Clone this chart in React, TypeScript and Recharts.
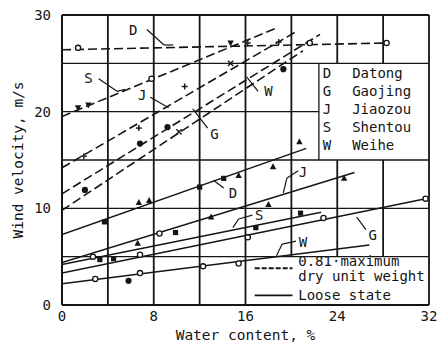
import React from 'react';
import {
  ComposedChart,
  Line,
  Scatter,
  XAxis,
  YAxis,
  ReferenceLine,
  ReferenceDot,
} from 'recharts';

// ---- axes ----
const xTicks = [0, 8, 16, 24, 32];
const yTicks = [0, 10, 20, 30];
const gridX = [4, 8, 12, 16, 20, 24, 28];
const gridY = [5, 10, 15, 20, 25];

// ---- 0.81 maximum dry unit weight (dashed fit lines) ----
const dashedD = [{ x: 0, y: 26.4 }, { x: 28.3, y: 27.1 }];
const dashedS = [{ x: 0, y: 19.5 }, { x: 18.8, y: 28.7 }];
const dashedJ = [{ x: 0, y: 14.2 }, { x: 20.3, y: 28.2 }];
const dashedG = [{ x: 0, y: 9.8 }, { x: 21.0, y: 26.3 }];
const dashedW = [{ x: 0, y: 11.5 }, { x: 22.5, y: 28.0 }];

// ---- loose state (solid fit lines) ----
const solidD = [{ x: 0, y: 7.3 }, { x: 21.3, y: 16.2 }];
const solidJ = [{ x: 0, y: 4.4 }, { x: 25.5, y: 13.7 }];
const solidS = [{ x: 0, y: 4.2 }, { x: 22.6, y: 9.6 }];
const solidG = [{ x: 0, y: 3.3 }, { x: 31.7, y: 11.0 }];
const solidW = [{ x: 0, y: 2.2 }, { x: 26.8, y: 6.2 }];

// ---- measured points ----
const ptsDashedD = [{ x: 1.4, y: 26.6 }, { x: 21.6, y: 27.1 }, { x: 28.3, y: 27.1 }];
const ptsDashedS = [{ x: 1.4, y: 20.4 }, { x: 2.3, y: 20.7 }, { x: 14.7, y: 27.1 }];
const ptsDashedSo = [{ x: 7.8, y: 23.4 }];
const ptsDashedJ = [{ x: 1.9, y: 15.4 }, { x: 6.7, y: 18.3 }, { x: 10.7, y: 22.6 }, { x: 16.2, y: 27.1 }, { x: 18.9, y: 27.2 }];
const ptsDashedG = [{ x: 10.2, y: 17.9 }, { x: 14.7, y: 25.0 }];
const ptsDashedW = [{ x: 2.0, y: 11.9 }, { x: 6.8, y: 16.7 }, { x: 9.2, y: 18.4 }, { x: 19.3, y: 24.4 }, { x: 5.8, y: 2.5 }];

const ptsSolidDsq = [{ x: 3.7, y: 8.6 }, { x: 12.0, y: 12.2 }, { x: 14.1, y: 13.1 }];
const ptsSolidDtri = [{ x: 6.7, y: 10.6 }, { x: 7.6, y: 10.8 }, { x: 15.4, y: 13.4 }, { x: 18.4, y: 14.3 }, { x: 20.7, y: 16.9 }];
const ptsSolidJ = [{ x: 6.6, y: 6.4 }, { x: 13.0, y: 9.1 }, { x: 18.0, y: 10.4 }, { x: 24.6, y: 13.1 }];
const ptsSolidS = [{ x: 3.3, y: 4.7 }, { x: 4.5, y: 4.8 }, { x: 9.9, y: 7.5 }, { x: 16.9, y: 8.0 }, { x: 20.8, y: 9.5 }];
const ptsSolidG = [{ x: 2.7, y: 5.0 }, { x: 6.8, y: 5.2 }, { x: 8.5, y: 7.4 }, { x: 16.2, y: 7.0 }, { x: 22.8, y: 9.0 }, { x: 31.7, y: 11.0 }];
const ptsSolidW = [{ x: 2.9, y: 2.7 }, { x: 6.8, y: 3.3 }, { x: 12.3, y: 4.0 }, { x: 15.4, y: 4.3 }];

// ---- text ----
const legendCodes = ['D', 'G', 'J', 'S', 'W'];
const legendNames = ['Datong', 'Gaojing', 'Jiaozou', 'Shentou', 'Weihe'];
const legendRowsY = [24.0, 22.1, 20.3, 18.4, 16.6];

const INK = '#151515';
const FONT = '"DejaVu Sans Mono", "Liberation Mono", monospace';

// annotation labels and leader polylines (data coordinates)
const annotations = [
  { t: 'D', x: 6.2, y: 28.4, lead: [[7.4, 28.5], [8.9, 26.9], [9.7, 26.9]] },
  { t: 'S', x: 2.3, y: 23.5, lead: [[3.2, 23.4], [4.8, 22.1], [5.5, 22.3]] },
  { t: 'J', x: 7.0, y: 21.7, lead: [[7.7, 21.5], [9.3, 20.4]] },
  { t: 'G', x: 13.3, y: 17.7, lead: [[12.7, 18.3], [11.4, 20.3]] },
  { t: 'W', x: 18.0, y: 22.1, lead: [[17.1, 22.1], [16.1, 23.6]] },
  { t: 'D', x: 14.9, y: 11.6, lead: [[14.1, 12.1], [13.2, 12.9]] },
  { t: 'J', x: 21.0, y: 13.8, lead: [[20.6, 13.9], [19.6, 13.1], [19.3, 11.6]] },
  { t: 'S', x: 17.2, y: 9.3, lead: [[16.6, 9.3], [15.4, 8.9], [14.9, 8.0]] },
  { t: 'W', x: 21.0, y: 6.5, lead: [[20.4, 6.6], [19.2, 6.3], [18.7, 5.1]] },
  { t: 'G', x: 27.1, y: 7.2, lead: [[26.5, 7.8], [25.7, 9.1]] },
];

const box1 = { x1: 22.4, x2: 32, y1: 15, y2: 25 };
const box2 = { x1: 16, x2: 32, y1: 0, y2: 5 };

// ---- marker shapes ----
const OpenCircle = (p: any) => (
  <circle cx={p.cx} cy={p.cy} r={2.6} fill="#fff" stroke={INK} strokeWidth={1.3} />
);
const FilledCircle = (p: any) => <circle cx={p.cx} cy={p.cy} r={3.1} fill={INK} />;
const Square = (p: any) => <rect x={p.cx - 2.6} y={p.cy - 2.6} width={5.2} height={5.2} fill={INK} />;
const TriUp = (p: any) => (
  <polygon points={`${p.cx},${p.cy - 3.5} ${p.cx - 3.2},${p.cy + 2.5} ${p.cx + 3.2},${p.cy + 2.5}`} fill={INK} />
);
const TriDown = (p: any) => (
  <polygon points={`${p.cx},${p.cy + 3.5} ${p.cx - 3.2},${p.cy - 2.5} ${p.cx + 3.2},${p.cy - 2.5}`} fill={INK} />
);
const Plus = (p: any) => (
  <g stroke={INK} strokeWidth={1.4}>
    <line x1={p.cx - 3} y1={p.cy} x2={p.cx + 3} y2={p.cy} />
    <line x1={p.cx} y1={p.cy - 3} x2={p.cx} y2={p.cy + 3} />
  </g>
);
const Cross = (p: any) => (
  <g stroke={INK} strokeWidth={1.4}>
    <line x1={p.cx - 2.6} y1={p.cy - 2.6} x2={p.cx + 2.6} y2={p.cy + 2.6} />
    <line x1={p.cx - 2.6} y1={p.cy + 2.6} x2={p.cx + 2.6} y2={p.cy - 2.6} />
  </g>
);

const textShape = (t: string, anchor: string, size: number, rotate?: number) => (p: any) => (
  <text
    x={p.cx}
    y={p.cy}
    textAnchor={anchor}
    dominantBaseline="central"
    fontFamily={FONT}
    fontSize={size}
    fill={INK}
    transform={rotate ? `rotate(${rotate} ${p.cx} ${p.cy})` : undefined}
  >
    {t}
  </text>
);

function segsV(gx: number): [number, number][] {
  let segs: [number, number][] = [[0, 30]];
  for (const b of [box1, box2]) {
    if (gx > b.x1 && gx < b.x2) {
      const next: [number, number][] = [];
      for (const [a, c] of segs) {
        if (c <= b.y1 || a >= b.y2) next.push([a, c]);
        else {
          if (a < b.y1) next.push([a, b.y1]);
          if (c > b.y2) next.push([b.y2, c]);
        }
      }
      segs = next;
    }
  }
  return segs;
}
function segsH(gy: number): [number, number][] {
  let segs: [number, number][] = [[0, 32]];
  for (const b of [box1, box2]) {
    if (gy > b.y1 && gy < b.y2) {
      const next: [number, number][] = [];
      for (const [a, c] of segs) {
        if (c <= b.x1 || a >= b.x2) next.push([a, c]);
        else {
          if (a < b.x1) next.push([a, b.x1]);
          if (c > b.x2) next.push([b.x2, c]);
        }
      }
      segs = next;
    }
  }
  return segs;
}

export default function App() {
  const dashed = [dashedD, dashedS, dashedJ, dashedG, dashedW];
  const solid = [solidD, solidJ, solidS, solidG, solidW];
  const gridEls: React.ReactNode[] = [];
  gridX.forEach((gx) =>
    segsV(gx).forEach(([a, b], i) =>
      gridEls.push(
        <ReferenceLine key={`gx${gx}-${i}`} segment={[{ x: gx, y: a }, { x: gx, y: b }]} stroke={INK} strokeWidth={1.8} />
      )
    )
  );
  gridY.forEach((gy) =>
    segsH(gy).forEach(([a, b], i) =>
      gridEls.push(
        <ReferenceLine key={`gy${gy}-${i}`} segment={[{ x: a, y: gy }, { x: b, y: gy }]} stroke={INK} strokeWidth={1.3} />
      )
    )
  );
  const leaderEls: React.ReactNode[] = [];
  annotations.forEach((an, k) => {
    for (let i = 0; i < an.lead.length - 1; i++) {
      leaderEls.push(
        <ReferenceLine
          key={`ld${k}-${i}`}
          segment={[{ x: an.lead[i][0], y: an.lead[i][1] }, { x: an.lead[i + 1][0], y: an.lead[i + 1][1] }]}
          stroke={INK}
          strokeWidth={1.2}
        />
      );
    }
  });

  return (
    <div style={{ position: 'absolute', left: 0, top: 0, width: 438, height: 346, background: '#fff' }}>
      <ComposedChart width={438} height={346} margin={{ top: 15, right: 9, bottom: 11, left: 0 }}>
        <XAxis
          dataKey="x"
          type="number"
          domain={[0, 32]}
          ticks={xTicks}
          allowDataOverflow
          height={30}
          tickLine={false}
          tickSize={0}
          tickMargin={6}
          axisLine={{ stroke: INK, strokeWidth: 2 }}
          tick={{ fontFamily: FONT, fontSize: 14, fill: INK }}
        />
        <YAxis
          type="number"
          domain={[0, 30]}
          ticks={yTicks}
          allowDataOverflow
          width={62}
          tickLine={false}
          tickSize={0}
          tickMargin={11}
          axisLine={{ stroke: INK, strokeWidth: 2 }}
          tick={{ fontFamily: FONT, fontSize: 14, fill: INK }}
        />
        {gridEls}
        <ReferenceLine y={30} stroke={INK} strokeWidth={1.8} />
        <ReferenceLine x={32} stroke={INK} strokeWidth={1.8} />
        <ReferenceLine segment={[{ x: box1.x1, y: box1.y1 }, { x: box1.x1, y: box1.y2 }]} stroke={INK} strokeWidth={1.3} />

        {dashed.map((d, i) => (
          <Line key={`d${i}`} data={d} dataKey="y" stroke={INK} strokeWidth={1.6} strokeDasharray="9 4" dot={false} activeDot={false} isAnimationActive={false} />
        ))}
        {solid.map((d, i) => (
          <Line key={`s${i}`} data={d} dataKey="y" stroke={INK} strokeWidth={1.5} dot={false} activeDot={false} isAnimationActive={false} />
        ))}

        <Scatter data={ptsDashedD} dataKey="y" shape={OpenCircle} isAnimationActive={false} />
        <Scatter data={ptsDashedSo} dataKey="y" shape={OpenCircle} isAnimationActive={false} />
        <Scatter data={ptsDashedS} dataKey="y" shape={TriDown} isAnimationActive={false} />
        <Scatter data={ptsDashedJ} dataKey="y" shape={Plus} isAnimationActive={false} />
        <Scatter data={ptsDashedG} dataKey="y" shape={Cross} isAnimationActive={false} />
        <Scatter data={ptsDashedW} dataKey="y" shape={FilledCircle} isAnimationActive={false} />
        <Scatter data={ptsSolidDsq} dataKey="y" shape={Square} isAnimationActive={false} />
        <Scatter data={ptsSolidDtri} dataKey="y" shape={TriUp} isAnimationActive={false} />
        <Scatter data={ptsSolidJ} dataKey="y" shape={TriUp} isAnimationActive={false} />
        <Scatter data={ptsSolidS} dataKey="y" shape={Square} isAnimationActive={false} />
        <Scatter data={ptsSolidG} dataKey="y" shape={OpenCircle} isAnimationActive={false} />
        <Scatter data={ptsSolidW} dataKey="y" shape={OpenCircle} isAnimationActive={false} />

        {leaderEls}
        {annotations.map((an, k) => (
          <ReferenceDot key={`an${k}`} x={an.x} y={an.y} r={0} shape={textShape(an.t, 'middle', 14)} />
        ))}

        {legendCodes.map((c, i) => (
          <ReferenceDot key={`lc${i}`} x={23.1} y={legendRowsY[i]} r={0} shape={textShape(c, 'middle', 14)} />
        ))}
        {legendNames.map((n, i) => (
          <ReferenceDot key={`ln${i}`} x={25.3} y={legendRowsY[i]} r={0} shape={textShape(n, 'start', 14)} />
        ))}

        <ReferenceLine segment={[{ x: 16.8, y: 3.8 }, { x: 20.1, y: 3.8 }]} stroke={INK} strokeWidth={2} strokeDasharray="5 2" />
        <ReferenceLine segment={[{ x: 16.8, y: 1.0 }, { x: 20.1, y: 1.0 }]} stroke={INK} strokeWidth={1.6} />
        <ReferenceDot x={20.6} y={4.6} r={0} shape={textShape('0.81·maximum', 'start', 14)} />
        <ReferenceDot x={20.6} y={3.05} r={0} shape={textShape('dry unit weight', 'start', 14)} />
        <ReferenceDot x={20.6} y={1.0} r={0} shape={textShape('Loose state', 'start', 14)} />

        <ReferenceDot x={16} y={-3.1} r={0} ifOverflow="visible" shape={textShape('Water content, %', 'middle', 14.5)} />
        <ReferenceDot x={-3.85} y={15} r={0} ifOverflow="visible" shape={textShape('Wind velocity, m/s', 'middle', 14.5, -90)} />
      </ComposedChart>
    </div>
  );
}
